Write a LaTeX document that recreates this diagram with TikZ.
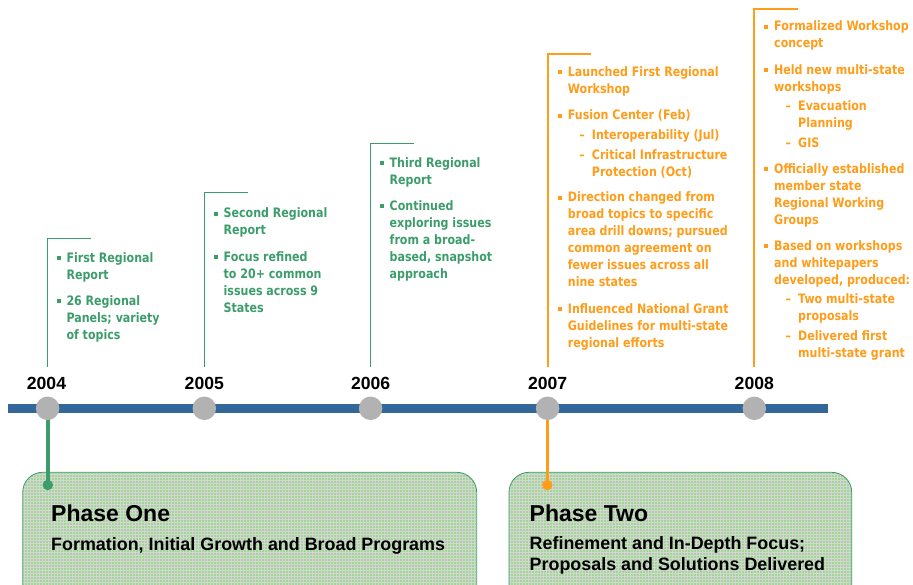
\documentclass[tikz,border=0pt]{standalone}
\usepackage{fontspec}
\setmainfont{Liberation Sans}
\newfontfamily\tfont{DejaVu Sans}[FakeStretch=0.85]
\definecolor{grn}{HTML}{3C9D6B}
\definecolor{org}{HTML}{FF9C1A}
\definecolor{tlblue}{HTML}{336699}
\definecolor{dotgray}{HTML}{B2B2B2}
\definecolor{boxfill}{HTML}{A3D597}
\definecolor{gridc}{HTML}{D4D6D4}
\newlength\bulw \setlength\bulw{10pt}
\newcommand\bl{\makebox[\bulw][l]{\raisebox{2.4pt}{\rule{4pt}{4pt}}}}
\newcommand\ind{\hspace*{\bulw}}
\newcommand\sbl{\ind\hspace*{11.5pt}\makebox[12.5pt][l]{\char"2013}}
\newcommand\sind{\ind\hspace*{24pt}}
\tikzset{
  tline/.style={line width=8.5pt, tlblue},
  yeardot/.style={circle, fill=dotgray, minimum size=23.5pt, inner sep=0pt},
  yearlbl/.style={font=\bfseries\fontsize{17.6}{20}\selectfont, anchor=base},
  brkg/.style={draw=grn, line width=1.4pt},
  brko/.style={draw=org, line width=1.8pt},
  itemsg/.style={anchor=base west, inner sep=0pt, text=grn, font=\tfont\bfseries\fontsize{13}{17}\selectfont},
  itemso/.style={itemsg, text=org},
  phasebox/.style={draw=grn, line width=0.8pt, rounded corners=20pt},
  ptitle/.style={anchor=base west, inner sep=0pt, font=\bfseries\fontsize{23}{26}\selectfont},
  psub/.style={anchor=base west, inner sep=0pt, font=\bfseries\fontsize{17.9}{21}\selectfont},
  enddot/.style={circle, minimum size=10.5pt, inner sep=0pt},
  gridlines/.style={gridc, line width=1pt, step=3pt, shift={(0.5,0.5)}},
}
\begin{document}
\begin{tikzpicture}[x=1pt,y=-1pt]
\useasboundingbox (0,0) rectangle (913,585);

% phase boxes
\begin{scope}
  \clip[rounded corners=20pt] (22.7,472.3) rectangle (476.7,610);
  \fill[boxfill] (22.7,472.3) rectangle (476.7,610);
  \draw[gridlines] (18,468) grid (480,600);
\end{scope}
\draw[phasebox] (22.7,610) -- (22.7,472.3) -- (476.7,472.3) -- (476.7,610);
\begin{scope}
  \clip[rounded corners=20pt] (509,472.3) rectangle (851.7,610);
  \fill[boxfill] (509,472.3) rectangle (851.7,610);
  \draw[gridlines] (504,468) grid (855,600);
\end{scope}
\draw[phasebox] (509,610) -- (509,472.3) -- (851.7,472.3) -- (851.7,610);

\node[ptitle] (p1t) at (51,521.5) {Phase One};
\node[psub] (p1s) at (51,550.5) {Formation, Initial Growth and Broad Programs};
\node[ptitle] (p2t) at (529.5,521.5) {Phase Two};
\node[psub] (p2s) at (529.5,549.5) {Refinement and In-Depth Focus;};
\node[psub] (p2u) at (529.5,570.5) {Proposals and Solutions Delivered};

% timeline
\coordinate (tlL) at (8.3,408.3);
\coordinate (tlR) at (827.5,408.3);
\draw[tline] (tlL) -- (tlR);

% phase connectors
\node[enddot, fill=grn] (e1) at (47.8,485) {};
\node[enddot, fill=org] (e2) at (547.3,485) {};
\draw[grn, line width=3.5pt] (47.8,408.3) -- (e1.center);
\draw[org, line width=3.5pt] (547.3,408.3) -- (e2.center);

\foreach \n/\x in {y4/47.6, y5/204.3, y6/370.6, y7/547.6, y8/754.3}{
  \node[yeardot] (\n) at (\x,408.3) {};
}
\node[yearlbl] (l4) at (46.5,389.3) {2004};
\node[yearlbl] (l5) at (204.3,389.3) {2005};
\node[yearlbl] (l6) at (370.6,389.3) {2006};
\node[yearlbl] (l7) at (547.6,389.3) {2007};
\node[yearlbl] (l8) at (754.3,389.3) {2008};

% brackets
\draw[brkg] (47.4,366.7) -- (47.4,238.3) -- (90.7,238.3);
\draw[brkg] (204.3,366.7) -- (204.3,192.7) -- (247.7,192.7);
\draw[brkg] (370.7,366.7) -- (370.7,143.3) -- (414,143.3);
\draw[brko] (547.7,366.7) -- (547.7,54) -- (590.7,54);
\draw[brko] (754.3,366.7) -- (754.3,9.3) -- (797.7,9.3);

% texts
\node[itemsg] (t4) at (56.3,262.5) {\begin{tabular}[t]{@{}l@{}}
\bl First Regional\\
\ind Report\\[9.3pt]
\bl 26 Regional\\
\ind Panels; variety\\
\ind of topics
\end{tabular}};

\node[itemsg] (t5) at (213.5,218) {\begin{tabular}[t]{@{}l@{}}
\bl Second Regional\\
\ind Report\\[9.5pt]
\bl Focus refined\\
\ind to 20+ common\\
\ind issues across 9\\
\ind States
\end{tabular}};

\node[itemsg] (t6) at (379.5,167.7) {\begin{tabular}[t]{@{}l@{}}
\bl Third Regional\\
\ind Report\\[8.8pt]
\bl Continued\\
\ind exploring issues\\
\ind from a broad-\\
\ind based, snapshot\\
\ind approach
\end{tabular}};

\node[itemso] (t7) at (557.7,76.7) {\begin{tabular}[t]{@{}l@{}}
\bl Launched First Regional\\
\ind Workshop\\[9.3pt]
\bl Fusion Center (Feb)\\[3pt]
\sbl Interoperability (Jul)\\[3pt]
\sbl Critical Infrastructure\\
\sind Protection (Oct)\\[8pt]
\bl Direction changed from\\
\ind broad topics to specific\\
\ind area drill downs; pursued\\
\ind common agreement on\\
\ind fewer issues across all\\
\ind nine states\\[9.3pt]
\bl Influenced National Grant\\
\ind Guidelines for multi-state\\
\ind regional efforts
\end{tabular}};

\node[itemso] (t8) at (764,31) {\begin{tabular}[t]{@{}l@{}}
\bl Formalized Workshop\\
\ind concept\\[9.5pt]
\bl Held new multi-state\\
\ind workshops\\[2.5pt]
\sbl Evacuation\\
\sind Planning\\[3pt]
\sbl GIS\\[8.6pt]
\bl Officially established\\
\ind member state\\
\ind Regional Working\\
\ind Groups\\[8.7pt]
\bl Based on workshops\\
\ind and whitepapers\\
\ind developed, produced:\\[2.5pt]
\sbl Two multi-state\\
\sind proposals\\[2.5pt]
\sbl Delivered first\\
\sind multi-state grant
\end{tabular}};
\end{tikzpicture}
\end{document}
